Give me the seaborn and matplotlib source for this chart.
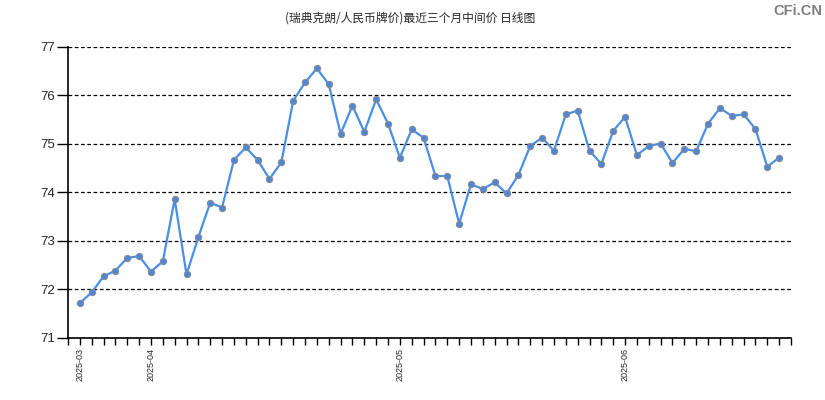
import matplotlib
matplotlib.use('Agg')
import matplotlib.pyplot as plt
import seaborn as sns
import pandas as pd

# trading days shown (late March to June 2025)
dates = ['2025-03-24', '2025-03-25', '2025-03-26', '2025-03-27', '2025-03-28', '2025-03-31',
         '2025-04-01', '2025-04-02', '2025-04-03', '2025-04-07', '2025-04-08', '2025-04-09',
         '2025-04-10', '2025-04-11', '2025-04-14', '2025-04-15', '2025-04-16', '2025-04-17',
         '2025-04-18', '2025-04-21', '2025-04-22', '2025-04-23', '2025-04-24', '2025-04-25',
         '2025-04-28', '2025-04-29', '2025-04-30',
         '2025-05-06', '2025-05-07', '2025-05-08', '2025-05-09', '2025-05-12', '2025-05-13',
         '2025-05-14', '2025-05-15', '2025-05-16', '2025-05-19', '2025-05-20', '2025-05-21',
         '2025-05-22', '2025-05-23', '2025-05-26', '2025-05-27', '2025-05-28', '2025-05-29',
         '2025-05-30',
         '2025-06-03', '2025-06-04', '2025-06-05', '2025-06-06', '2025-06-09', '2025-06-10',
         '2025-06-11', '2025-06-12', '2025-06-13', '2025-06-16', '2025-06-17', '2025-06-18',
         '2025-06-19', '2025-06-20']

# middle rate values
rates = [71.72, 71.94, 72.27, 72.39, 72.65, 72.69, 72.37, 72.58, 73.86, 72.31,
         73.08, 73.79, 73.69, 74.67, 74.93, 74.67, 74.28, 74.62, 75.89, 76.27,
         76.56, 76.23, 75.21, 75.79, 75.25, 75.92, 75.42, 74.72, 75.30, 75.13,
         74.34, 74.34, 73.36, 74.17, 74.07, 74.21, 73.98, 74.36, 74.96, 75.13,
         74.86, 75.61, 75.69, 74.86, 74.59, 75.27, 75.56, 74.77, 74.96, 75.01,
         74.61, 74.90, 74.85, 75.42, 75.74, 75.58, 75.61, 75.31, 74.53, 74.72]

title = '(瑞典克朗/人民币牌价)最近三个月中间价 日线图'

df = pd.DataFrame({'date': dates, 'rate': rates})
df['idx'] = range(len(df))

sns.set_style('white')
plt.rcParams['font.family'] = ['Liberation Sans', 'Noto Sans CJK SC', 'DejaVu Sans']

fig = plt.figure(figsize=(8.25, 4), dpi=100)
ax = fig.add_axes([0.0824, 0.155, 0.8764, 0.7275])

sns.lineplot(data=df, x='idx', y='rate', ax=ax, color='#4a8fe6', linewidth=1.6,
             marker='o', markersize=4.6, markerfacecolor='#4f86d6',
             markeredgecolor='#8a8a8a', markeredgewidth=0.7)

ax.set_xlim(-1, len(df))
ax.set_ylim(71, 77)
ax.set_yticks(range(71, 78))
ax.yaxis.grid(True, linestyle=(0, (3, 2)), color='black', linewidth=0.9)
ax.xaxis.grid(False)

# a tick at every day, labels at first day of each month
months = [d[:7] for d in dates]
ticks = list(range(-1, len(df) + 1))
labels = []
for t in ticks:
    if 0 <= t < len(df) and (t == 0 or months[t] != months[t - 1]):
        labels.append(months[t])
    else:
        labels.append('')
ax.set_xticks(ticks)
ax.set_xticklabels(labels, rotation=90, fontsize=6.5)
ax.tick_params(axis='x', direction='out', length=5, width=1, color='black', bottom=True, pad=2)
ax.tick_params(axis='y', direction='out', length=8, width=1, color='black', left=True, labelsize=9.5, pad=1)

for s in ['top', 'right']:
    ax.spines[s].set_visible(False)
for s in ['left', 'bottom']:
    ax.spines[s].set_color('black')
    ax.spines[s].set_linewidth(1.2)

ax.set_xlabel('')
ax.set_ylabel('')

fig.text(0.497, 0.955, title, ha='center', va='center', fontsize=8.5,
         family=['Noto Sans CJK SC', 'DejaVu Sans'])
fig.text(0.997, 0.972, 'CFi.CN', ha='right', va='center', fontsize=10.5,
         fontweight='bold', color='#7f7f7f')

fig.savefig('out.png', dpi=100)
